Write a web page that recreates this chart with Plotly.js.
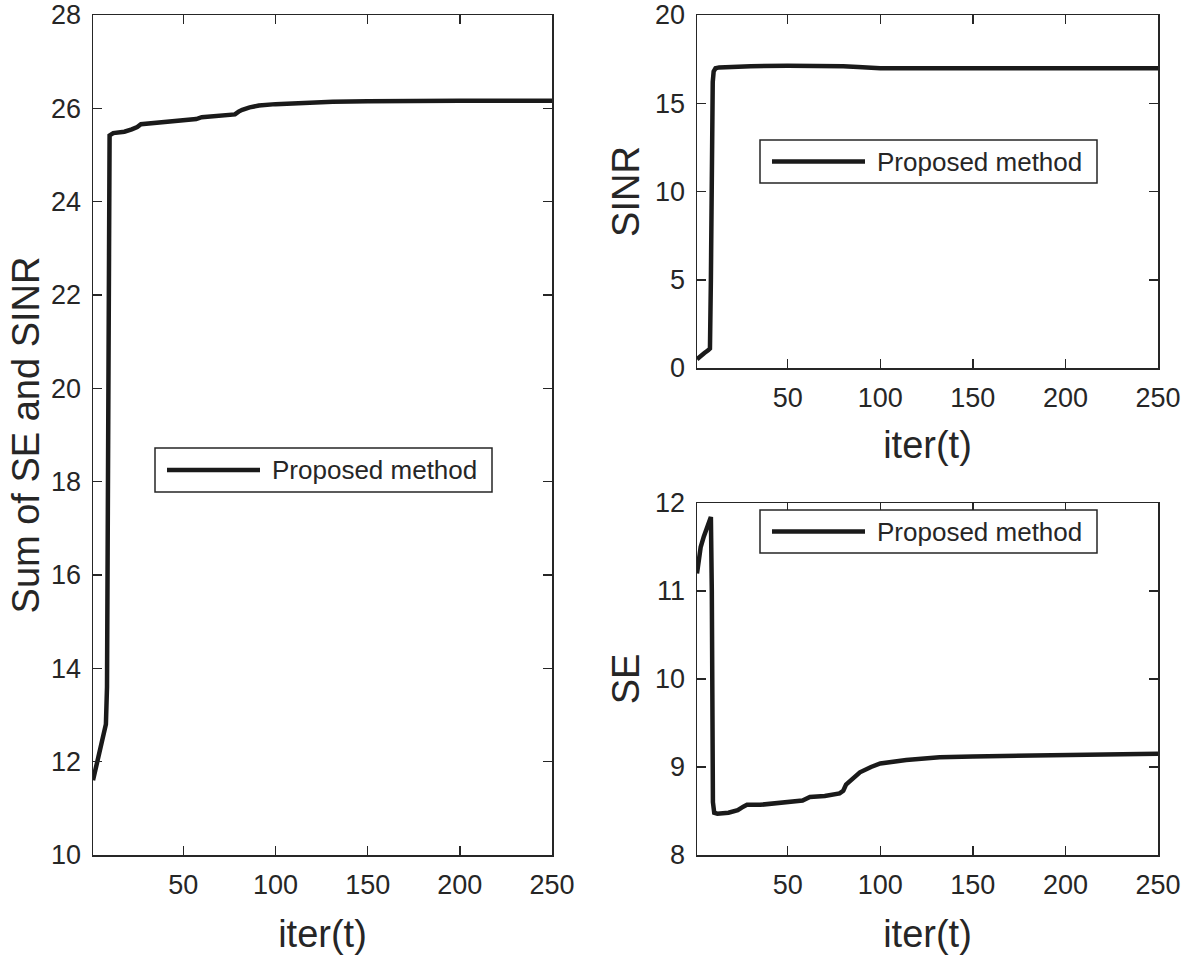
<!DOCTYPE html>
<html>
<head>
<meta charset="utf-8">
<script src="https://cdn.plot.ly/plotly-3.0.1.min.js"></script>
<style>html,body{margin:0;padding:0;background:#fff;}#chart{width:1181px;height:965px;}</style>
</head>
<body>
<div id="chart"></div>
<script>
// ---- data ----
const iterSum = [1, 3, 4, 6, 8, 8.6, 9.0, 9.3, 9.6, 10, 12, 18, 22, 25, 27, 30, 40, 50, 57, 60, 65, 70, 78, 80, 82, 86, 91, 100, 113, 131, 150, 167, 200, 250];
const sumSE_SINR = [11.6, 11.95, 12.1, 12.4, 12.8, 13.6, 18.0, 23.5, 25.2, 25.42, 25.47, 25.5, 25.55, 25.6, 25.66, 25.67, 25.7, 25.73, 25.77, 25.81, 25.82, 25.83, 25.87, 25.93, 25.97, 26.02, 26.06, 26.09, 26.12, 26.14, 26.15, 26.16, 26.16, 26.16];

const iterSINR = [1, 3, 5, 7, 8, 8.5, 9, 9.5, 10, 11, 13, 20, 30, 50, 70, 80, 88, 95, 100, 150, 200, 250];
const sinr = [0.5, 0.7, 0.85, 1.0, 1.1, 5.0, 14.0, 16.2, 16.8, 16.98, 17.03, 17.06, 17.1, 17.12, 17.12, 17.1, 17.05, 17.0, 16.99, 16.99, 16.99, 16.99];

const iterSE = [1, 2, 3, 4.7, 6, 8.5, 9.0, 9.6, 10.3, 12, 18, 23, 26, 28, 35, 45, 58, 62, 70, 78, 80, 81.5, 85, 89, 95, 100, 114, 132, 150, 200, 250];
const se = [11.2, 11.35, 11.5, 11.62, 11.7, 11.84, 11.0, 8.6, 8.48, 8.47, 8.48, 8.51, 8.55, 8.57, 8.57, 8.59, 8.62, 8.66, 8.67, 8.70, 8.73, 8.8, 8.87, 8.94, 9.0, 9.04, 9.08, 9.11, 9.12, 9.14, 9.15];

const seriesName = "Proposed method";
const xTicks = [50, 100, 150, 200, 250];
const ySumTicks = [10, 12, 14, 16, 18, 20, 22, 24, 26, 28];
const ySINRTicks = [0, 5, 10, 15, 20];
const ySETicks = [8, 9, 10, 11, 12];

// ---- styling ----
const W = 1181, H = 965;
const FONT = "Liberation Sans, Arial, Helvetica, sans-serif";
const TXT = "#262626";
const LINE = "#1a1a1a";
const px = x => x / W;
const py = y => 1 - y / H;
const TITLE_FONT = {family: FONT, size: 38, color: TXT};

function axisBase(extra) {
  return Object.assign({
    showline: true, mirror: "ticks", linecolor: TXT, linewidth: 1.5,
    ticks: "inside", ticklen: 9, tickwidth: 1.5, tickcolor: TXT,
    showgrid: false, zeroline: false,
    tickfont: {family: FONT, size: 27, color: TXT},
    ticklabelstandoff: 5,
    fixedrange: true
  }, extra);
}

const traceStyle = {mode: "lines", line: {color: LINE, width: 4.5, shape: "linear"}, showlegend: false, name: seriesName};

const data = [
  Object.assign({x: iterSum, y: sumSE_SINR, xaxis: "x", yaxis: "y"}, traceStyle),
  Object.assign({x: iterSINR, y: sinr, xaxis: "x2", yaxis: "y2"}, traceStyle),
  Object.assign({x: iterSE, y: se, xaxis: "x3", yaxis: "y3"}, traceStyle)
];

const xTitle = {text: "iter(t)", font: TITLE_FONT, standoff: 21};

const layout = {
  width: W, height: H,
  margin: {l: 0, r: 0, t: 0, b: 0},
  paper_bgcolor: "#fff", plot_bgcolor: "#fff",
  showlegend: false,
  xaxis: axisBase({domain: [px(93), px(552)], range: [1, 250], tickvals: xTicks, anchor: "y", title: xTitle}),
  yaxis: axisBase({domain: [py(855), py(15)], range: [10, 28], tickvals: ySumTicks, anchor: "x",
    title: {text: "Sum of SE and SINR", font: TITLE_FONT, standoff: 0}}),
  xaxis2: axisBase({domain: [px(697), px(1158)], range: [1, 250], tickvals: xTicks, anchor: "y2", title: {text: "iter(t)", font: TITLE_FONT, standoff: 19}}),
  yaxis2: axisBase({domain: [py(368), py(15)], range: [0, 20], tickvals: ySINRTicks, anchor: "x2",
    title: {text: "SINR", font: TITLE_FONT, standoff: 4}}),
  xaxis3: axisBase({domain: [px(697), px(1158)], range: [1, 250], tickvals: xTicks, anchor: "y3", title: xTitle}),
  yaxis3: axisBase({domain: [py(855), py(503)], range: [8, 12], tickvals: ySETicks, anchor: "x3",
    title: {text: "SE", font: TITLE_FONT, standoff: 4}}),
  shapes: [],
  annotations: []
};

// legend boxes (drawn as shapes + text in paper coordinates)
const legends = [
  {x0: 155, x1: 492, y0: 448, y1: 492},
  {x0: 760, x1: 1097, y0: 140, y1: 183},
  {x0: 760, x1: 1097, y0: 510, y1: 553}
];
legends.forEach(b => {
  const yc = (b.y0 + b.y1) / 2;
  layout.shapes.push({type: "rect", xref: "paper", yref: "paper", x0: px(b.x0), x1: px(b.x1), y0: py(b.y1), y1: py(b.y0),
    line: {color: TXT, width: 1.5}, fillcolor: "#fff", layer: "above"});
  layout.shapes.push({type: "line", xref: "paper", yref: "paper", x0: px(b.x0 + 12), x1: px(b.x0 + 105), y0: py(yc), y1: py(yc),
    line: {color: LINE, width: 4.5}, layer: "above"});
  layout.annotations.push({xref: "paper", yref: "paper", x: px(b.x0 + 115), y: py(yc), xanchor: "left", yanchor: "middle",
    text: seriesName, showarrow: false, font: {family: FONT, size: 26, color: TXT}});
});

Plotly.newPlot("chart", data, layout, {displayModeBar: false, staticPlot: true});
</script>
</body>
</html>
